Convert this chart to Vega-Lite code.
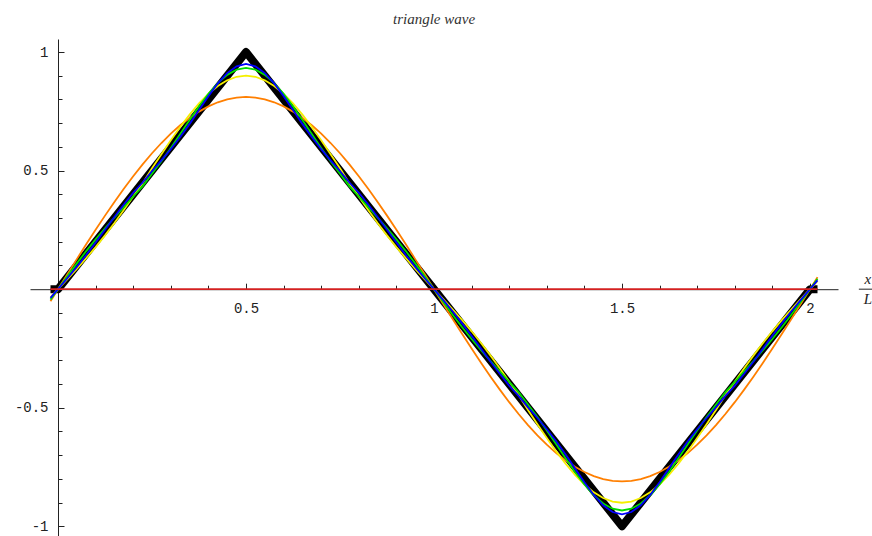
{
  "$schema": "https://vega.github.io/schema/vega-lite/v6.json",
  "width": 808,
  "height": 498,
  "autosize": {"type": "none"},
  "padding": {"left": 30, "top": 39, "right": 34, "bottom": 0},
  "background": "white",
  "title": {"text": "triangle wave", "font": "Liberation Serif", "fontStyle": "italic", "fontWeight": "normal", "fontSize": 15, "color": "#333", "anchor": "middle", "baseline": "alphabetic", "offset": 0},
  "config": {
    "view": {"stroke": null},
    "axis": {"grid": false, "domainColor": "#222", "tickColor": "#222", "labelFont": "Liberation Mono", "labelFontSize": 14, "labelColor": "#222", "title": null}
  },
  "datasets": {
    "fs": [
      {"x": -0.02, "o": -0.0509, "yl": -0.034, "g": -0.044, "b": -0.037},
      {"x": 0, "o": 0, "yl": 0, "g": 0, "b": 0},
      {"x": 0.025, "o": 0.0636, "yl": 0.0426, "g": 0.055, "b": 0.0463},
      {"x": 0.05, "o": 0.1268, "yl": 0.0859, "g": 0.1088, "b": 0.0941},
      {"x": 0.075, "o": 0.1892, "yl": 0.1307, "g": 0.1607, "b": 0.1442},
      {"x": 0.1, "o": 0.2505, "yl": 0.1776, "g": 0.21, "b": 0.1967},
      {"x": 0.125, "o": 0.3102, "yl": 0.227, "g": 0.2569, "b": 0.2506},
      {"x": 0.15, "o": 0.368, "yl": 0.279, "g": 0.302, "b": 0.3046},
      {"x": 0.175, "o": 0.4235, "yl": 0.3337, "g": 0.3461, "b": 0.3569},
      {"x": 0.2, "o": 0.4765, "yl": 0.3908, "g": 0.3908, "b": 0.4065},
      {"x": 0.225, "o": 0.5264, "yl": 0.4462, "g": 0.4338, "b": 0.4499},
      {"x": 0.25, "o": 0.5732, "yl": 0.5095, "g": 0.4866, "b": 0.4983},
      {"x": 0.275, "o": 0.6164, "yl": 0.5693, "g": 0.5394, "b": 0.5432},
      {"x": 0.3, "o": 0.6558, "yl": 0.6279, "g": 0.5955, "b": 0.5904},
      {"x": 0.325, "o": 0.6911, "yl": 0.6841, "g": 0.6541, "b": 0.6415},
      {"x": 0.35, "o": 0.7222, "yl": 0.7363, "g": 0.7134, "b": 0.697},
      {"x": 0.375, "o": 0.7489, "yl": 0.7833, "g": 0.7709, "b": 0.7556},
      {"x": 0.4, "o": 0.7709, "yl": 0.8238, "g": 0.8238, "b": 0.8141},
      {"x": 0.425, "o": 0.7882, "yl": 0.8567, "g": 0.8691, "b": 0.8678},
      {"x": 0.45, "o": 0.8006, "yl": 0.8808, "g": 0.9038, "b": 0.9113},
      {"x": 0.475, "o": 0.8081, "yl": 0.8957, "g": 0.9256, "b": 0.9397},
      {"x": 0.5, "o": 0.8106, "yl": 0.9006, "g": 0.9331, "b": 0.9496},
      {"x": 0.525, "o": 0.8081, "yl": 0.8957, "g": 0.9256, "b": 0.9397},
      {"x": 0.55, "o": 0.8006, "yl": 0.8808, "g": 0.9038, "b": 0.9113},
      {"x": 0.575, "o": 0.7882, "yl": 0.8567, "g": 0.8691, "b": 0.8678},
      {"x": 0.6, "o": 0.7709, "yl": 0.8238, "g": 0.8238, "b": 0.8141},
      {"x": 0.625, "o": 0.7489, "yl": 0.7833, "g": 0.7709, "b": 0.7556},
      {"x": 0.65, "o": 0.7222, "yl": 0.7363, "g": 0.7134, "b": 0.697},
      {"x": 0.675, "o": 0.6911, "yl": 0.6841, "g": 0.6541, "b": 0.6415},
      {"x": 0.7, "o": 0.6558, "yl": 0.6279, "g": 0.5955, "b": 0.5904},
      {"x": 0.725, "o": 0.6164, "yl": 0.5693, "g": 0.5394, "b": 0.5432},
      {"x": 0.75, "o": 0.5732, "yl": 0.5095, "g": 0.4866, "b": 0.4983},
      {"x": 0.775, "o": 0.5264, "yl": 0.4462, "g": 0.4338, "b": 0.4499},
      {"x": 0.8, "o": 0.4765, "yl": 0.3908, "g": 0.3908, "b": 0.4065},
      {"x": 0.825, "o": 0.4235, "yl": 0.3337, "g": 0.3461, "b": 0.3569},
      {"x": 0.85, "o": 0.368, "yl": 0.279, "g": 0.302, "b": 0.3046},
      {"x": 0.875, "o": 0.3102, "yl": 0.227, "g": 0.2569, "b": 0.2506},
      {"x": 0.9, "o": 0.2505, "yl": 0.1776, "g": 0.21, "b": 0.1967},
      {"x": 0.925, "o": 0.1892, "yl": 0.1307, "g": 0.1607, "b": 0.1442},
      {"x": 0.95, "o": 0.1268, "yl": 0.0859, "g": 0.1088, "b": 0.0941},
      {"x": 0.975, "o": 0.0636, "yl": 0.0426, "g": 0.055, "b": 0.0463},
      {"x": 1, "o": 0, "yl": 0, "g": 0, "b": 0},
      {"x": 1.025, "o": -0.0636, "yl": -0.0426, "g": -0.055, "b": -0.0463},
      {"x": 1.05, "o": -0.1268, "yl": -0.0859, "g": -0.1088, "b": -0.0941},
      {"x": 1.075, "o": -0.1892, "yl": -0.1307, "g": -0.1607, "b": -0.1442},
      {"x": 1.1, "o": -0.2505, "yl": -0.1776, "g": -0.21, "b": -0.1967},
      {"x": 1.125, "o": -0.3102, "yl": -0.227, "g": -0.2569, "b": -0.2506},
      {"x": 1.15, "o": -0.368, "yl": -0.279, "g": -0.302, "b": -0.3046},
      {"x": 1.175, "o": -0.4235, "yl": -0.3337, "g": -0.3461, "b": -0.3569},
      {"x": 1.2, "o": -0.4765, "yl": -0.3908, "g": -0.3908, "b": -0.4065},
      {"x": 1.225, "o": -0.5264, "yl": -0.4462, "g": -0.4338, "b": -0.4499},
      {"x": 1.25, "o": -0.5732, "yl": -0.5095, "g": -0.4866, "b": -0.4983},
      {"x": 1.275, "o": -0.6164, "yl": -0.5693, "g": -0.5394, "b": -0.5432},
      {"x": 1.3, "o": -0.6558, "yl": -0.6279, "g": -0.5955, "b": -0.5904},
      {"x": 1.325, "o": -0.6911, "yl": -0.6841, "g": -0.6541, "b": -0.6415},
      {"x": 1.35, "o": -0.7222, "yl": -0.7363, "g": -0.7134, "b": -0.697},
      {"x": 1.375, "o": -0.7489, "yl": -0.7833, "g": -0.7709, "b": -0.7556},
      {"x": 1.4, "o": -0.7709, "yl": -0.8238, "g": -0.8238, "b": -0.8141},
      {"x": 1.425, "o": -0.7882, "yl": -0.8567, "g": -0.8691, "b": -0.8678},
      {"x": 1.45, "o": -0.8006, "yl": -0.8808, "g": -0.9038, "b": -0.9113},
      {"x": 1.475, "o": -0.8081, "yl": -0.8957, "g": -0.9256, "b": -0.9397},
      {"x": 1.5, "o": -0.8106, "yl": -0.9006, "g": -0.9331, "b": -0.9496},
      {"x": 1.525, "o": -0.8081, "yl": -0.8957, "g": -0.9256, "b": -0.9397},
      {"x": 1.55, "o": -0.8006, "yl": -0.8808, "g": -0.9038, "b": -0.9113},
      {"x": 1.575, "o": -0.7882, "yl": -0.8567, "g": -0.8691, "b": -0.8678},
      {"x": 1.6, "o": -0.7709, "yl": -0.8238, "g": -0.8238, "b": -0.8141},
      {"x": 1.625, "o": -0.7489, "yl": -0.7833, "g": -0.7709, "b": -0.7556},
      {"x": 1.65, "o": -0.7222, "yl": -0.7363, "g": -0.7134, "b": -0.697},
      {"x": 1.675, "o": -0.6911, "yl": -0.6841, "g": -0.6541, "b": -0.6415},
      {"x": 1.7, "o": -0.6558, "yl": -0.6279, "g": -0.5955, "b": -0.5904},
      {"x": 1.725, "o": -0.6164, "yl": -0.5693, "g": -0.5394, "b": -0.5432},
      {"x": 1.75, "o": -0.5732, "yl": -0.5095, "g": -0.4866, "b": -0.4983},
      {"x": 1.775, "o": -0.5264, "yl": -0.4462, "g": -0.4338, "b": -0.4499},
      {"x": 1.8, "o": -0.4765, "yl": -0.3908, "g": -0.3908, "b": -0.4065},
      {"x": 1.825, "o": -0.4235, "yl": -0.3337, "g": -0.3461, "b": -0.3569},
      {"x": 1.85, "o": -0.368, "yl": -0.279, "g": -0.302, "b": -0.3046},
      {"x": 1.875, "o": -0.3102, "yl": -0.227, "g": -0.2569, "b": -0.2506},
      {"x": 1.9, "o": -0.2505, "yl": -0.1776, "g": -0.21, "b": -0.1967},
      {"x": 1.925, "o": -0.1892, "yl": -0.1307, "g": -0.1607, "b": -0.1442},
      {"x": 1.95, "o": -0.1268, "yl": -0.0859, "g": -0.1088, "b": -0.0941},
      {"x": 1.975, "o": -0.0636, "yl": -0.0426, "g": -0.055, "b": -0.0463},
      {"x": 2, "o": 0, "yl": 0, "g": 0, "b": 0},
      {"x": 2.02, "o": 0.0509, "yl": 0.034, "g": 0.044, "b": 0.037}
    ],
    "tri": [
      {"x": -0.02, "y": 0},
      {"x": 0, "y": 0},
      {"x": 0.5, "y": 1},
      {"x": 1.5, "y": -1},
      {"x": 2, "y": 0},
      {"x": 2.02, "y": 0}
    ],
    "zero": [
      {"x": -0.02, "y": 0},
      {"x": 2.02, "y": 0}
    ],
    "lbl": [
      {"x": 2.154, "y": 0.045, "t": "x"},
      {"x": 2.154, "y": -0.04, "t": "L"}
    ],
    "bar": [
      {"x": 2.13, "x2": 2.18, "y": 0}
    ]
  },
  "layer": [
    {
      "data": {"name": "tri"},
      "mark": {"type": "line", "color": "black", "strokeWidth": 8, "strokeJoin": "round", "strokeCap": "butt"},
      "encoding": {
        "x": {"field": "x", "type": "quantitative", "scale": {"domain": [-0.0745, 2.0745], "nice": false, "zero": false},
              "axis": {"orient": "bottom", "offset": -247.8, "values": [0.5, 1, 1.5, 2], "tickSize": -6, "labelPadding": 18, "labelExpr": "datum.value + ''", "domain": true}},
        "y": {"field": "y", "type": "quantitative", "scale": {"domain": [-1.045, 1.055], "nice": false, "zero": false},
              "axis": {"orient": "left", "offset": -28, "values": [-1, -0.5, 0.5, 1], "tickSize": -6, "labelPadding": 16, "labelExpr": "datum.value + ''", "domain": true}}
      }
    },
    {
      "data": {"name": "fs"},
      "mark": {"type": "line", "color": "#ff7f00", "strokeWidth": 1.8},
      "encoding": {
        "x": {"field": "x", "type": "quantitative", "scale": {"domain": [-0.0745, 2.0745], "nice": false, "zero": false},
              "axis": {"orient": "top", "offset": -250.2, "values": [0.1, 0.2, 0.3, 0.4, 0.6, 0.7, 0.8, 0.9, 1.1, 1.2, 1.3, 1.4, 1.6, 1.7, 1.8, 1.9], "tickSize": 4, "labels": false, "domain": false}},
        "y": {"field": "o", "type": "quantitative", "scale": {"domain": [-1.045, 1.055], "nice": false, "zero": false},
              "axis": {"orient": "right", "offset": -780, "values": [-0.9, -0.8, -0.7, -0.6, -0.4, -0.3, -0.2, -0.1, 0.1, 0.2, 0.3, 0.4, 0.6, 0.7, 0.8, 0.9], "tickSize": 4, "labels": false, "domain": false}}
      }
    },
    {
      "data": {"name": "fs"},
      "mark": {"type": "line", "color": "#f5f000", "strokeWidth": 1.8},
      "encoding": {
        "x": {"field": "x", "type": "quantitative", "axis": null},
        "y": {"field": "yl", "type": "quantitative", "axis": null}
      }
    },
    {
      "data": {"name": "fs"},
      "mark": {"type": "line", "color": "#00dd00", "strokeWidth": 1.8},
      "encoding": {
        "x": {"field": "x", "type": "quantitative", "axis": null},
        "y": {"field": "g", "type": "quantitative", "axis": null}
      }
    },
    {
      "data": {"name": "fs"},
      "mark": {"type": "line", "color": "#0000ff", "strokeWidth": 1.8},
      "encoding": {
        "x": {"field": "x", "type": "quantitative", "axis": null},
        "y": {"field": "b", "type": "quantitative", "axis": null}
      }
    },
    {
      "data": {"name": "zero"},
      "mark": {"type": "line", "color": "#d42020", "strokeWidth": 1.8},
      "encoding": {
        "x": {"field": "x", "type": "quantitative", "axis": null},
        "y": {"field": "y", "type": "quantitative", "axis": null}
      }
    },
    {
      "data": {"name": "lbl"},
      "mark": {"type": "text", "font": "Liberation Serif", "fontStyle": "italic", "fontSize": 15, "color": "#222", "align": "center", "baseline": "middle"},
      "encoding": {
        "x": {"field": "x", "type": "quantitative", "axis": null},
        "y": {"field": "y", "type": "quantitative", "axis": null},
        "text": {"field": "t"}
      }
    },
    {
      "data": {"name": "bar"},
      "mark": {"type": "rule", "color": "#222", "strokeWidth": 1},
      "encoding": {
        "x": {"field": "x", "type": "quantitative", "axis": null},
        "x2": {"field": "x2"},
        "y": {"field": "y", "type": "quantitative", "axis": null}
      }
    }
  ]
}
